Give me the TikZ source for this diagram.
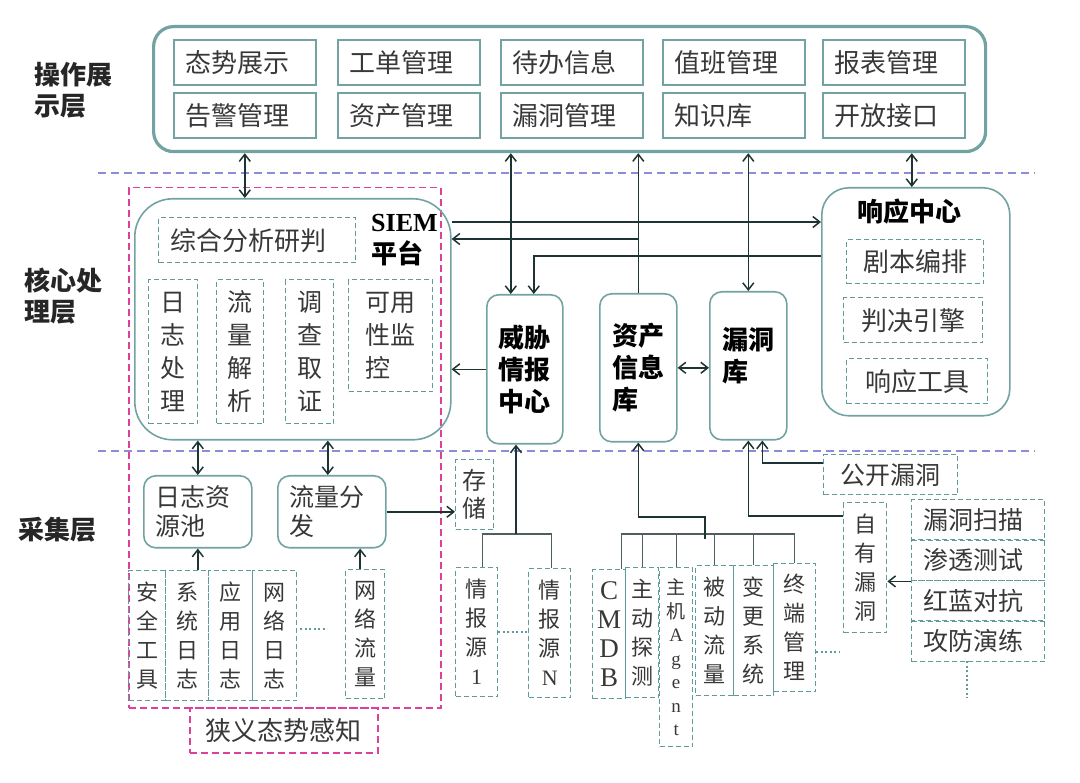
\documentclass[tikz,border=0pt]{standalone}
\usepackage{fontspec}
\setmainfont{Liberation Serif}
\newfontfamily\cjk{Noto Sans CJK SC}
\usetikzlibrary{arrows.meta}

\definecolor{frameteal}{HTML}{72A2A2}
\definecolor{dashteal}{HTML}{5F9B9B}
\definecolor{linkdark}{HTML}{1E3434}
\definecolor{busgray}{HTML}{4F5F5F}
\definecolor{layerblue}{HTML}{8C8CD8}
\definecolor{scopepink}{HTML}{DD3F9B}
\definecolor{inkgray}{HTML}{383838}

\newcommand\zhcell{\cjk\fontsize{26}{30}\selectfont}
\newcommand\zhcol{\cjk\fontsize{25}{33}\selectfont}
\newcommand\zhsrc{\cjk\fontsize{22}{29}\selectfont}
\newcommand\zhmid{\cjk\fontsize{25}{29}\selectfont}
\newcommand\zhhead{\cjk\bfseries\fontsize{26}{32}\selectfont}

\tikzset{
  base/.style={anchor=north west, inner sep=0pt, text=inkgray},
  solidbox/.style={base, draw=frameteal, line width=1.6pt},
  dashbox/.style={base, draw=dashteal, line width=1.4pt, dash pattern=on 5pt off 3pt},
  roundbox/.style={solidbox, rounded corners=#1},
  cell/.style={solidbox, minimum width=142pt, minimum height=45pt, inner xsep=12pt, text width=118pt, align=left, font=\zhcell},
  colbox/.style={dashbox, align=center, font=\zhcol},
  srcbox/.style={dashbox, align=center, font=\zhsrc},
  hubbox/.style={roundbox=12pt, text=black, font=\zhhead},
  layer/.style={anchor=west, inner sep=0pt, align=left, text=black!85, font=\cjk\bfseries\fontsize{26}{31}\selectfont},
  link/.style={draw=linkdark, line width=1.5pt},
  arr/.style={link, -{Straight Barb[length=7pt,width=11pt]}},
  biarr/.style={link, {Straight Barb[length=7pt,width=11pt]}-{Straight Barb[length=7pt,width=11pt]}},
  bus/.style={draw=busgray, line width=1.3pt},
  layerline/.style={draw=layerblue, line width=1.3pt, dash pattern=on 8pt off 5pt},
  narrowline/.style={draw=scopepink, line width=1.5pt, dash pattern=on 7pt off 4pt},
  more/.style={draw=dashteal, line width=2pt, dash pattern=on 2pt off 2.5pt},
}

\begin{document}
\begin{tikzpicture}[x=1pt,y=-1pt]
\useasboundingbox (0,0) rectangle (1080,783);

% layers
\draw[layerline] (98,173) -- (1035,173);
\draw[layerline] (98,451) -- (1035,451);
\node[layer] (lyops) at (34,90) {操作展\\示层};
\node[layer] (lycore) at (24,296) {核心处\\理层};
\node[layer] (lycoll) at (18,530) {采集层};

% operation layer
\node[roundbox=20pt, line width=3.2pt, minimum width=832pt, minimum height=125pt] (ops) at (152,25) {};
\foreach \name/\x/\y/\txt in {taishi/173/39/态势展示, gongdan/337/39/工单管理, daiban/500/39/待办信息,
    zhiban/662/39/值班管理, baobiao/822/39/报表管理, gaojing/173/92/告警管理, zichan/337/92/资产管理,
    loudong/500/92/漏洞管理, zhishi/662/92/知识库, kaifang/822/92/开放接口}
  \node[cell] (\name) at (\x,\y) {\txt};

% SIEM platform
\node[base, narrowline, minimum width=312pt, minimum height=520pt] (scope) at (128,187) {};
\node[base, narrowline, minimum width=188pt, minimum height=45pt, font=\zhcell] (narrow) at (189,707) {狭义态势感知};
\node[roundbox=38pt, minimum width=316pt, minimum height=241pt] (siem) at (134,198) {};
\node[anchor=west, inner sep=0pt, align=left, text=black, font=\zhhead] (siemtitle) at (371,240) {{\rmfamily\bfseries SIEM}\\平台};
\node[dashbox, minimum width=197pt, minimum height=45pt, inner xsep=12pt, text width=173pt, align=left, font=\zhcell] (zonghe) at (158,217) {综合分析研判};
\node[colbox, minimum width=49pt, minimum height=144pt] (rizhi) at (148,279) {日\\志\\处\\理};
\node[colbox, minimum width=47pt, minimum height=144pt] (liuliang) at (216,279) {流\\量\\解\\析};
\node[colbox, minimum width=48pt, minimum height=144pt] (diaocha) at (285,279) {调\\查\\取\\证};
\node[colbox, minimum width=84pt, minimum height=112pt, align=left] (keyong) at (348,279) {可用\\性监\\控};

% centers
\node[hubbox, minimum width=76pt, minimum height=149pt, align=center] (threat) at (486,294) {威胁\\情报\\中心};
\node[hubbox, minimum width=77pt, minimum height=148pt, align=left] (asset) at (599,293) {资产\\信息\\库};
\node[hubbox, minimum width=77pt, minimum height=148pt, align=left, text depth=22pt] (vulndb) at (709,291) {漏洞\\库};

% response center
\node[roundbox=27pt, minimum width=188pt, minimum height=228pt] (resp) at (821,187) {};
\node[inner sep=0pt, text=black, font=\zhhead] (resptitle) at (909,212) {响应中心};
\node[dashbox, minimum width=137pt, minimum height=44pt, font=\zhcell] (juben) at (846,239) {剧本编排};
\node[dashbox, minimum width=139pt, minimum height=45pt, font=\zhcell] (panjue) at (843,297) {判决引擎};
\node[dashbox, minimum width=141pt, minimum height=45pt, font=\zhcell] (xiangying) at (846,358) {响应工具};

% collection layer
\node[roundbox=12pt, minimum width=108pt, minimum height=72pt, inner xsep=12pt, text width=84pt, align=left, font=\zhmid] (logpool) at (143,475) {日志资\\源池};
\node[roundbox=12pt, minimum width=108pt, minimum height=72pt, inner xsep=12pt, text width=84pt, align=left, font=\zhmid] (flowdist) at (277,475) {流量分\\发};
\node[srcbox, minimum width=38pt, minimum height=70pt, font=\cjk\fontsize{24}{28}\selectfont] (store) at (455,459) {存\\储};

\node[srcbox, minimum width=37pt, minimum height=130pt] (anquan) at (128,570) {安\\全\\工\\具};
\node[srcbox, minimum width=43pt, minimum height=130pt] (xitong) at (165,570) {系\\统\\日\\志};
\node[srcbox, minimum width=44pt, minimum height=130pt] (yingyong) at (208,570) {应\\用\\日\\志};
\node[srcbox, minimum width=44pt, minimum height=130pt] (wangluo) at (252,570) {网\\络\\日\\志};
\node[srcbox, minimum width=39pt, minimum height=129pt] (netflow) at (345,569) {网\\络\\流\\量};
\draw[more] (300,629) -- (327,629);

\node[srcbox, minimum width=42pt, minimum height=129pt] (src1) at (455,567) {情\\报\\源\\{\rmfamily 1}};
\node[srcbox, minimum width=42pt, minimum height=129pt] (srcN) at (528,568) {情\\报\\源\\{\rmfamily N}};
\draw[more] (src1.east) -- (src1.east -| srcN.west);

\node[srcbox, minimum width=33pt, minimum height=129pt, font=\rmfamily\fontsize{27}{29}\selectfont] (cmdb) at (592,569) {C\\M\\D\\B};
\node[srcbox, minimum width=33pt, minimum height=130pt] (probe) at (625,567) {主\\动\\探\\测};
\node[srcbox, minimum width=33pt, minimum height=179pt, font=\rmfamily\fontsize{19}{23.5}\selectfont] (agent) at (659,567) {{\cjk 主}\\{\cjk 机}\\A\\g\\e\\n\\t};
\node[srcbox, minimum width=38pt, minimum height=130pt] (passive) at (695,565) {被\\动\\流\\量};
\node[srcbox, minimum width=40pt, minimum height=130pt] (change) at (733,565) {变\\更\\系\\统};
\node[srcbox, minimum width=42pt, minimum height=128pt] (endpoint) at (773,563) {终\\端\\管\\理};
\draw[more] (endpoint.east |- 0,652) -- (840,652);

\node[dashbox, minimum width=134pt, minimum height=40pt, font=\zhmid] (public) at (823,454) {公开漏洞};
\node[srcbox, minimum width=43pt, minimum height=130pt] (ownvuln) at (843,502) {自\\有\\漏\\洞};
\foreach \name/\y/\txt in {scan/499/漏洞扫描, pentest/539/渗透测试, redblue/580/红蓝对抗, drill/620/攻防演练}
  \node[dashbox, minimum width=133pt, minimum height=41pt, inner xsep=12pt, text width=109pt, align=left, font=\zhmid] (\name) at (911,\y) {\txt};
\draw[more] (967,661) -- (967,698);

% links to the operation layer
\draw[biarr] (gaojing.south |- ops.south) -- (gaojing.south |- siem.north);
\coordinate (tin) at ([xshift=-14pt]threat.north);
\draw[biarr] (tin |- ops.south) -- (tin);
\draw[arr] (asset.north) -- (asset.north |- ops.south);
\draw[biarr] (vulndb.north |- ops.south) -- (vulndb.north);
\coordinate (rin) at ([xshift=-4pt]resp.north);
\draw[biarr] (rin |- ops.south) -- (rin);

% core links
\coordinate (sr) at (siem.east |- 0,222);
\draw[arr] (sr) -- (sr -| resp.west);
\coordinate (abr) at (asset.north |- 0,239);
\draw[arr] (abr) -- (abr -| siem.east);
\coordinate (rt) at (resp.west |- 0,256);
\coordinate (tin2) at ([xshift=9pt]threat.north);
\draw[arr] (rt) -| (tin2);
\draw[arr] (threat.west) -- (threat.west -| siem.east);
\draw[biarr] (asset.east) -- (asset.east -| vulndb.west);

% collection links
\draw[biarr] (logpool.north) -- (logpool.north |- siem.south);
\coordinate (fin) at ([xshift=-4pt]flowdist.north);
\draw[biarr] (fin) -- (fin |- siem.south);
\draw[arr] (logpool.south |- xitong.north) -- (logpool.south);
\coordinate (nin) at ([xshift=-5pt]netflow.north);
\draw[arr] (nin) -- (nin |- flowdist.south);
\draw[arr] (flowdist.east) -- (flowdist.east -| store.west);

\coordinate (ibus) at (516,534);
\draw[bus] ([xshift=6pt]src1.north) |- (ibus) -| ([xshift=2pt]srcN.north);
\draw[arr] (ibus) -- (ibus |- threat.south);

\coordinate (abus) at (705,534);
\draw[bus] ([xshift=12pt]cmdb.north) |- (abus) -| (endpoint.north);
\foreach \n in {probe, agent, passive, change}
  \draw[bus] (\n.north) -- (\n.north |- abus);
\coordinate (akink) at (asset.south |- 0,517);
\draw[arr] ([yshift=-5pt]abus) |- (akink) -- (asset.south);

\coordinate (vin1) at ([xshift=14pt]vulndb.south);
\draw[arr] (public.west |- 0,463) -| (vin1);
\draw[arr] (ownvuln.west |- 0,516) -| (vulndb.south);
\draw[arr] (pentest.south west) -- (pentest.south west -| ownvuln.east);
\end{tikzpicture}
\end{document}
